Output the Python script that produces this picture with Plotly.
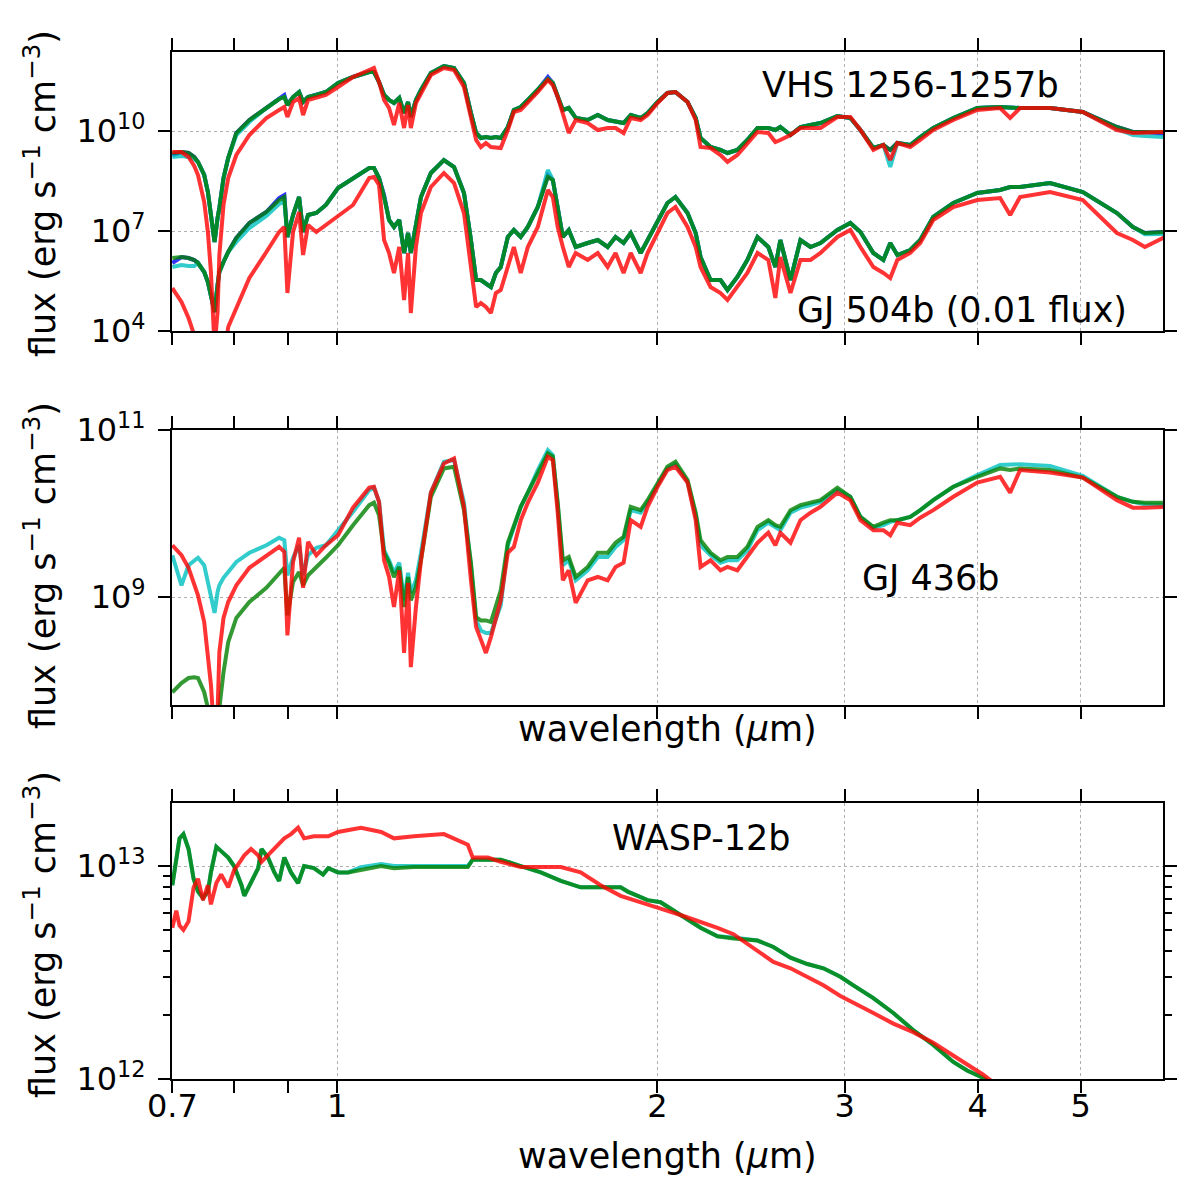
import numpy as np
import plotly.graph_objects as go

# ---------------- data ----------------
# common wavelength grid (micron) for the brown-dwarf / cool-planet spectra
WAVELENGTH_UM = [
    0.700, 0.714, 0.725, 0.734, 0.740, 0.750, 0.756, 0.761, 0.767, 0.772,
    0.775, 0.782, 0.790, 0.804, 0.827, 0.858, 0.882, 0.892, 0.898, 0.909,
    0.921, 0.929, 0.939, 0.956, 0.976, 1.002, 1.035, 1.072, 1.083, 1.095,
    1.107, 1.119, 1.131, 1.144, 1.156, 1.166, 1.173, 1.186, 1.199, 1.225,
    1.260, 1.288, 1.316, 1.336, 1.351, 1.365, 1.380, 1.395, 1.410, 1.425,
    1.447, 1.466, 1.488, 1.511, 1.544, 1.578, 1.595, 1.612, 1.630, 1.651,
    1.676, 1.720, 1.758, 1.796, 1.827, 1.859, 1.888, 1.929, 1.958, 2.001,
    2.044, 2.080, 2.135, 2.173, 2.196, 2.244, 2.293, 2.328, 2.378, 2.430,
    2.484, 2.543, 2.582, 2.610, 2.668, 2.726, 2.786, 2.847, 2.953, 3.037,
    3.104, 3.192, 3.262, 3.311, 3.362, 3.457, 3.533, 3.634, 3.795, 3.997,
    4.200, 4.292, 4.385, 4.679, 5.023, 5.408, 5.598, 5.745, 6.000,
]

# log10 of flux (erg s^-1 cm^-3)
VHS_GREEN_LOG10 = [
    9.34, 9.37, 9.34, 9.22, 9.07, 8.68, 8.17, 7.57, 6.67, 7.39,
    7.69, 8.59, 9.19, 9.94, 10.33, 10.69, 10.96, 11.02, 10.78, 11.02,
    11.17, 10.87, 11.02, 11.08, 11.17, 11.44, 11.62, 11.77, 11.77, 11.47,
    11.08, 10.93, 10.84, 10.99, 10.54, 10.87, 10.42, 10.93, 11.23, 11.74,
    11.95, 11.89, 11.44, 10.54, 9.94, 9.79, 9.82, 9.79, 9.82, 9.79,
    10.12, 10.63, 10.72, 10.93, 11.23, 11.56, 11.44, 11.02, 10.63, 10.69,
    10.39, 10.33, 10.48, 10.33, 10.27, 10.24, 10.48, 10.39, 10.54, 10.87,
    11.14, 11.17, 10.87, 10.39, 9.79, 9.52, 9.43, 9.34, 9.43, 9.73,
    10.09, 10.09, 10.03, 10.12, 9.88, 10.12, 10.18, 10.24, 10.45, 10.39,
    10.03, 9.49, 9.58, 9.43, 9.64, 9.58, 9.82, 10.09, 10.39, 10.69,
    10.72, 10.69, 10.69, 10.69, 10.57, 10.12, 9.97, 9.97, 9.97,
]
VHS_BLUE_LOG10 = [
    9.28, 9.37, 9.34, 9.22, 9.07, 8.68, 8.17, 7.57, 6.67, 7.39,
    7.69, 8.59, 9.19, 9.94, 10.33, 10.69, 10.99, 11.08, 10.78, 11.02,
    11.17, 10.87, 11.02, 11.08, 11.17, 11.44, 11.62, 11.77, 11.77, 11.47,
    11.08, 10.93, 10.84, 10.99, 10.54, 10.87, 10.42, 10.93, 11.23, 11.74,
    11.95, 11.89, 11.44, 10.54, 9.94, 9.79, 9.82, 9.79, 9.82, 9.79,
    10.12, 10.63, 10.72, 10.93, 11.23, 11.62, 11.44, 11.02, 10.63, 10.69,
    10.39, 10.33, 10.48, 10.33, 10.27, 10.24, 10.48, 10.39, 10.54, 10.87,
    11.14, 11.17, 10.87, 10.39, 9.79, 9.52, 9.43, 9.34, 9.43, 9.73,
    10.09, 10.09, 10.03, 10.12, 9.88, 10.12, 10.18, 10.24, 10.45, 10.39,
    10.03, 9.49, 9.58, 9.43, 9.64, 9.58, 9.82, 10.09, 10.39, 10.69,
    10.72, 10.69, 10.69, 10.69, 10.57, 10.12, 9.97, 9.97, 9.91,
]
VHS_CYAN_LOG10 = [
    9.22, 9.25, 9.22, 9.16, 9.07, 8.68, 8.17, 7.57, 6.67, 7.39,
    7.69, 8.59, 9.19, 9.88, 10.27, 10.69, 10.96, 11.02, 10.78, 11.02,
    11.17, 10.87, 11.02, 11.08, 11.17, 11.44, 11.62, 11.77, 11.77, 11.47,
    11.08, 10.93, 10.84, 10.99, 10.54, 10.87, 10.42, 10.93, 11.23, 11.74,
    11.95, 11.89, 11.44, 10.54, 9.94, 9.79, 9.82, 9.79, 9.82, 9.79,
    10.12, 10.63, 10.72, 10.93, 11.23, 11.56, 11.44, 11.02, 10.63, 10.69,
    10.39, 10.33, 10.48, 10.33, 10.27, 10.24, 10.48, 10.39, 10.54, 10.87,
    11.14, 11.17, 10.87, 10.39, 9.79, 9.52, 9.43, 9.34, 9.43, 9.73,
    10.09, 10.09, 10.03, 10.12, 9.88, 10.12, 10.18, 10.24, 10.45, 10.39,
    10.03, 9.49, 9.58, 8.92, 9.64, 9.58, 9.82, 10.09, 10.39, 10.69,
    10.72, 10.69, 10.69, 10.69, 10.57, 10.06, 9.88, 9.85, 9.82,
]
VHS_RED_LOG10 = [
    9.37, 9.37, 9.22, 8.95, 8.68, 7.87, 6.97, 5.77, 3.50, 4.57,
    6.28, 7.78, 8.59, 9.28, 9.88, 10.39, 10.63, 10.72, 10.42, 10.87,
    10.99, 10.48, 10.93, 10.99, 11.08, 11.32, 11.62, 11.83, 11.89, 11.47,
    10.93, 10.69, 10.18, 10.84, 10.09, 10.78, 10.09, 10.84, 11.14, 11.68,
    11.89, 11.83, 11.32, 10.33, 9.73, 9.52, 9.64, 9.52, 9.49, 9.49,
    10.03, 10.57, 10.63, 10.84, 11.17, 11.53, 11.38, 11.02, 10.48, 9.94,
    10.33, 10.24, 10.03, 10.09, 10.09, 9.94, 10.39, 10.33, 10.48, 10.84,
    11.14, 11.17, 10.87, 10.33, 9.52, 9.49, 9.28, 9.07, 9.28, 9.64,
    9.97, 9.94, 9.67, 9.73, 9.88, 10.09, 10.09, 10.09, 10.42, 10.42,
    10.03, 9.43, 9.58, 9.13, 9.64, 9.52, 9.73, 10.03, 10.33, 10.63,
    10.69, 10.39, 10.69, 10.69, 10.57, 10.03, 9.94, 9.94, 9.97,
]

GJ504_GREEN_LOG10 = [
    6.19, 6.22, 6.19, 6.13, 6.04, 5.77, 5.47, 5.08, 4.57, 5.38,
    5.77, 6.07, 6.37, 6.79, 7.24, 7.57, 7.93, 8.02, 6.82, 7.48,
    8.02, 6.97, 7.48, 7.54, 7.78, 8.29, 8.59, 8.89, 8.89, 8.59,
    8.02, 7.33, 7.12, 7.33, 6.34, 6.94, 6.34, 7.12, 8.02, 8.74,
    9.13, 8.92, 8.14, 6.73, 5.53, 5.53, 5.44, 5.32, 5.74, 5.92,
    6.82, 7.03, 6.82, 7.12, 7.72, 8.62, 8.53, 7.63, 6.82, 7.03,
    6.52, 6.64, 6.73, 6.52, 6.82, 6.64, 6.94, 6.34, 6.73, 7.33,
    7.84, 8.02, 7.54, 6.94, 6.22, 5.53, 5.53, 5.23, 5.62, 6.13,
    6.82, 6.52, 5.92, 6.73, 5.53, 6.73, 6.52, 6.64, 7.03, 7.24,
    6.97, 6.34, 6.13, 6.64, 6.28, 6.43, 6.73, 7.42, 7.84, 8.14,
    8.23, 8.32, 8.32, 8.44, 8.17, 7.54, 7.12, 6.94, 6.97,
]
GJ504_BLUE_LOG10 = [
    6.04, 6.22, 6.19, 6.13, 6.04, 5.77, 5.47, 5.08, 4.57, 5.38,
    5.77, 6.07, 6.37, 6.79, 7.24, 7.57, 7.99, 8.08, 6.82, 7.48,
    8.02, 6.97, 7.48, 7.54, 7.78, 8.29, 8.59, 8.89, 8.89, 8.59,
    8.08, 7.33, 7.12, 7.33, 6.34, 6.94, 6.34, 7.12, 8.02, 8.74,
    9.13, 8.92, 8.14, 6.73, 5.53, 5.53, 5.44, 5.32, 5.74, 5.92,
    6.82, 7.03, 6.82, 7.12, 7.72, 8.68, 8.53, 7.63, 6.82, 7.03,
    6.52, 6.64, 6.73, 6.52, 6.82, 6.64, 6.94, 6.34, 6.73, 7.33,
    7.84, 8.02, 7.54, 6.94, 6.22, 5.53, 5.53, 5.23, 5.62, 6.13,
    6.82, 6.52, 5.92, 6.73, 5.53, 6.73, 6.52, 6.64, 7.03, 7.24,
    6.97, 6.34, 6.13, 6.64, 6.28, 6.43, 6.73, 7.42, 7.84, 8.14,
    8.23, 8.32, 8.32, 8.44, 8.17, 7.54, 7.12, 6.94, 6.97,
]
GJ504_CYAN_LOG10 = [
    5.92, 5.98, 5.95, 5.95, 6.04, 5.77, 5.47, 5.08, 4.57, 5.38,
    5.77, 6.07, 6.37, 6.67, 7.09, 7.45, 7.81, 7.90, 6.82, 7.48,
    8.02, 6.97, 7.48, 7.54, 7.78, 8.29, 8.59, 8.89, 8.89, 8.59,
    8.02, 7.33, 7.12, 7.33, 6.34, 6.94, 6.34, 7.12, 8.02, 8.74,
    9.13, 8.92, 8.14, 6.73, 5.53, 5.53, 5.44, 5.32, 5.74, 5.92,
    6.82, 7.03, 6.82, 7.12, 7.72, 8.83, 8.53, 7.63, 6.82, 7.03,
    6.52, 6.64, 6.73, 6.52, 6.82, 6.64, 6.94, 6.34, 6.73, 7.33,
    7.84, 8.02, 7.54, 6.94, 6.22, 5.53, 5.53, 5.23, 5.62, 6.13,
    6.82, 6.52, 5.92, 6.73, 5.53, 6.73, 6.52, 6.64, 7.03, 7.24,
    6.97, 6.34, 6.13, 6.64, 6.28, 6.43, 6.73, 7.42, 7.84, 8.14,
    8.23, 8.32, 8.32, 8.44, 8.17, 7.54, 7.12, 6.90, 6.91,
]
GJ504_RED_LOG10 = [
    5.29, 4.87, 4.39, 3.94, 3.58, 2.98, 2.53, 2.23, 1.93, 2.08,
    2.38, 3.13, 4.12, 4.69, 5.59, 6.37, 6.97, 7.12, 5.14, 6.97,
    7.57, 6.28, 7.18, 6.97, 7.18, 7.48, 7.78, 8.59, 8.62, 8.38,
    6.73, 6.34, 5.74, 6.52, 4.93, 6.34, 4.54, 6.52, 7.54, 8.32,
    8.74, 8.44, 7.54, 5.92, 4.72, 4.84, 4.72, 4.54, 5.14, 5.23,
    5.92, 6.52, 5.74, 6.52, 7.12, 8.23, 8.02, 7.12, 6.52, 5.92,
    6.34, 6.13, 6.34, 5.92, 6.34, 5.74, 6.34, 5.74, 6.34, 6.94,
    7.54, 7.72, 7.12, 6.52, 5.92, 5.32, 5.14, 4.93, 5.32, 5.74,
    6.34, 6.13, 4.99, 6.22, 5.14, 6.13, 6.13, 6.34, 6.82, 7.03,
    6.52, 5.92, 5.74, 5.59, 6.13, 6.34, 6.64, 7.33, 7.72, 7.93,
    7.99, 7.48, 8.02, 8.17, 7.93, 6.94, 6.73, 6.52, 6.82,
]

GJ436_CYAN_LOG10 = [
    9.50, 9.14, 9.38, 9.44, 9.47, 9.38, 9.18, 8.96, 8.81, 9.06,
    9.14, 9.23, 9.30, 9.42, 9.53, 9.62, 9.71, 9.68, 9.26, 9.47,
    9.62, 9.26, 9.50, 9.59, 9.62, 9.80, 10.02, 10.28, 10.31, 10.14,
    9.56, 9.44, 9.29, 9.41, 8.96, 9.29, 9.05, 9.20, 9.53, 10.25,
    10.62, 10.64, 10.13, 9.36, 8.72, 8.60, 8.57, 8.57, 8.72, 8.90,
    9.62, 9.84, 10.08, 10.25, 10.52, 10.76, 10.70, 10.10, 9.38, 9.44,
    9.20, 9.32, 9.48, 9.48, 9.60, 9.68, 10.04, 10.01, 10.13, 10.34,
    10.54, 10.59, 10.38, 9.98, 9.62, 9.50, 9.41, 9.44, 9.44, 9.56,
    9.80, 9.89, 9.83, 9.80, 10.01, 10.07, 10.10, 10.14, 10.28, 10.20,
    9.96, 9.83, 9.86, 9.90, 9.92, 9.96, 10.04, 10.16, 10.32, 10.46,
    10.58, 10.58, 10.59, 10.57, 10.45, 10.20, 10.14, 10.11, 10.10,
]
GJ436_GREEN_LOG10 = [
    7.86, 7.97, 8.03, 8.04, 8.03, 7.86, 7.67, 7.41, 7.05, 7.29,
    7.67, 8.10, 8.46, 8.75, 8.94, 9.11, 9.29, 9.35, 8.78, 9.18,
    9.30, 9.14, 9.26, 9.35, 9.47, 9.62, 9.86, 10.10, 10.13, 9.98,
    9.53, 9.41, 9.24, 9.36, 8.88, 9.24, 8.96, 9.12, 9.44, 10.20,
    10.54, 10.56, 10.04, 9.41, 8.76, 8.72, 8.72, 8.70, 8.88, 9.08,
    9.65, 9.84, 10.08, 10.25, 10.49, 10.72, 10.68, 10.13, 9.44, 9.48,
    9.24, 9.36, 9.53, 9.53, 9.65, 9.72, 10.08, 10.04, 10.16, 10.37,
    10.56, 10.62, 10.40, 10.01, 9.68, 9.53, 9.44, 9.48, 9.48, 9.60,
    9.84, 9.92, 9.86, 9.84, 10.04, 10.10, 10.13, 10.16, 10.31, 10.20,
    9.96, 9.84, 9.89, 9.92, 9.92, 9.96, 10.04, 10.16, 10.32, 10.44,
    10.54, 10.52, 10.54, 10.52, 10.43, 10.20, 10.14, 10.13, 10.13,
]
GJ436_RED_LOG10 = [
    9.62, 9.50, 9.35, 9.14, 9.02, 8.70, 8.34, 7.95, 7.29, 7.62,
    8.34, 8.75, 8.94, 9.14, 9.35, 9.50, 9.60, 9.54, 8.54, 9.42,
    9.71, 9.11, 9.66, 9.50, 9.62, 9.74, 10.07, 10.31, 10.32, 10.14,
    9.44, 9.24, 8.88, 9.32, 8.33, 9.17, 8.16, 8.88, 9.44, 10.25,
    10.60, 10.66, 10.08, 9.20, 8.64, 8.49, 8.33, 8.52, 8.72, 8.96,
    9.53, 9.60, 9.92, 10.13, 10.37, 10.68, 10.64, 10.01, 9.20, 9.32,
    8.93, 9.20, 9.24, 9.20, 9.36, 9.41, 9.92, 9.84, 10.08, 10.32,
    10.52, 10.56, 10.37, 9.92, 9.36, 9.44, 9.32, 9.36, 9.32, 9.48,
    9.65, 9.77, 9.62, 9.77, 9.65, 9.92, 10.01, 10.08, 10.25, 10.16,
    9.92, 9.80, 9.80, 9.74, 9.89, 9.86, 9.95, 10.04, 10.20, 10.37,
    10.44, 10.25, 10.52, 10.49, 10.43, 10.16, 10.07, 10.07, 10.08,
]

# WASP-12b has its own wavelength sampling
WASP_WAVELENGTH_UM = [
    0.700, 0.706, 0.711, 0.717, 0.725, 0.733, 0.740, 0.748, 0.756, 0.761,
    0.770, 0.778, 0.790, 0.800, 0.813, 0.818, 0.830, 0.843, 0.849, 0.861,
    0.873, 0.882, 0.892, 0.905, 0.919, 0.931, 0.951, 0.970, 0.981, 1.002,
    1.024, 1.053, 1.100, 1.131, 1.181, 1.260, 1.327, 1.341, 1.386, 1.425,
    1.488, 1.554, 1.623, 1.694, 1.769, 1.847, 1.876, 1.958, 2.014, 2.103,
    2.196, 2.278, 2.358, 2.484, 2.571, 2.668, 2.767, 2.865, 2.972, 3.057,
    3.192, 3.333, 3.479, 3.634, 3.795, 3.910, 4.049, 4.200,
]
WASP_GREEN_LOG10 = [
    12.91, 13.02, 13.13, 13.15, 13.08, 12.94, 12.88, 12.85, 12.88, 12.97,
    13.09, 13.07, 13.04, 13.00, 12.91, 12.86, 12.92, 12.99, 13.08, 13.04,
    12.97, 12.93, 13.04, 12.97, 12.92, 13.00, 12.99, 12.96, 12.99, 12.97,
    12.97, 12.98, 13.00, 12.99, 12.995, 12.995, 12.995, 13.03, 13.03, 13.03,
    13.00, 12.97, 12.93, 12.90, 12.90, 12.90, 12.88, 12.84, 12.83, 12.77,
    12.71, 12.67, 12.66, 12.65, 12.62, 12.57, 12.54, 12.52, 12.48, 12.44,
    12.38, 12.31, 12.23, 12.16, 12.08, 12.04, 12.005, 11.95,
]
WASP_CYAN_LOG10 = [
    12.91, 13.02, 13.13, 13.15, 13.08, 12.94, 12.88, 12.85, 12.88, 12.97,
    13.09, 13.07, 13.04, 13.00, 12.91, 12.86, 12.92, 12.99, 13.08, 13.04,
    12.97, 12.93, 13.04, 12.97, 12.92, 13.00, 12.99, 12.96, 12.99, 12.97,
    12.97, 12.995, 13.01, 13.00, 13.00, 13.00, 13.00, 13.03, 13.03, 13.03,
    13.00, 12.97, 12.93, 12.90, 12.90, 12.90, 12.88, 12.84, 12.83, 12.77,
    12.71, 12.67, 12.665, 12.65, 12.62, 12.57, 12.54, 12.52, 12.48, 12.44,
    12.38, 12.31, 12.23, 12.16, 12.08, 12.04, 12.005, 11.95,
]
WASP_RED_LOG10 = [
    12.71, 12.79, 12.72, 12.70, 12.74, 12.90, 12.94, 12.84, 12.91, 12.82,
    12.92, 12.96, 12.90, 12.98, 13.03, 13.05, 13.08, 13.05, 13.02, 13.05,
    13.08, 13.10, 13.13, 13.15, 13.18, 13.13, 13.14, 13.14, 13.14, 13.16,
    13.17, 13.18, 13.16, 13.13, 13.14, 13.15, 13.10, 13.04, 13.04, 13.02,
    12.995, 12.995, 12.995, 12.97, 12.91, 12.86, 12.85, 12.82, 12.80, 12.77,
    12.74, 12.71, 12.68, 12.60, 12.55, 12.52, 12.48, 12.44, 12.39, 12.36,
    12.31, 12.26, 12.22, 12.17, 12.11, 12.07, 12.02, 11.96,
]

PANEL_LABELS = ["VHS 1256-1257b", "GJ 504b (0.01 flux)", "GJ 436b", "WASP-12b"]
X_TICKS = [0.7, 1, 2, 3, 4, 5]
X_TICK_TEXT = ["0.7", "1", "2", "3", "4", "5"]
X_MINOR_TICKS = [0.8, 0.9]

# ---------------- styling ----------------
FONT = "DejaVu Sans"
COLORS = {
    "blue": "rgba(0,0,255,0.8)",
    "cyan": "rgba(0,191,191,0.8)",
    "green": "rgba(0,128,0,0.8)",
    "red": "rgba(255,0,0,0.8)",
}
LW = 4


def flux(log_values):
    return [10.0 ** v for v in log_values]


fig = go.Figure()


def add(x, logy, color, xa, ya):
    fig.add_trace(go.Scatter(
        x=x, y=flux(logy), mode="lines",
        line=dict(color=COLORS[color], width=LW),
        xaxis=xa, yaxis=ya, showlegend=False, hoverinfo="skip",
    ))


# top panel: VHS 1256-1257b and GJ 504b
for name, vhs, gj in [("blue", VHS_BLUE_LOG10, GJ504_BLUE_LOG10),
                      ("cyan", VHS_CYAN_LOG10, GJ504_CYAN_LOG10),
                      ("green", VHS_GREEN_LOG10, GJ504_GREEN_LOG10),
                      ("red", VHS_RED_LOG10, GJ504_RED_LOG10)]:
    add(WAVELENGTH_UM, vhs, name, "x", "y")
    add(WAVELENGTH_UM, gj, name, "x", "y")

# middle panel: GJ 436b
add(WAVELENGTH_UM, GJ436_CYAN_LOG10, "cyan", "x2", "y2")
add(WAVELENGTH_UM, GJ436_GREEN_LOG10, "green", "x2", "y2")
add(WAVELENGTH_UM, GJ436_RED_LOG10, "red", "x2", "y2")

# bottom panel: WASP-12b
add(WASP_WAVELENGTH_UM, WASP_CYAN_LOG10, "cyan", "x3", "y3")
add(WASP_WAVELENGTH_UM, WASP_GREEN_LOG10, "green", "x3", "y3")
add(WASP_WAVELENGTH_UM, WASP_RED_LOG10, "red", "x3", "y3")

W = H = 1200.0
XDOM = [172 / W, 1163 / W]
PANELS = [(52, 331), (430, 705), (803, 1079)]  # pixel top/bottom


def ydom(p):
    t, b = p
    return [1 - b / H, 1 - t / H]


GRID = dict(showgrid=True, gridcolor="#b0b0b0", gridwidth=1, griddash="3px,3px")
COMMON = dict(showline=True, linecolor="black", linewidth=2, mirror="ticks",
              ticks="outside", ticklen=12, tickwidth=2, tickcolor="black",
              zeroline=False, automargin=False,
              tickfont=dict(family=FONT, size=32, color="black"))


def xaxis(anchor, labels):
    d = dict(type="log", range=[np.log10(0.6995), np.log10(5.975)], domain=XDOM,
             anchor=anchor, tickmode="array", tickvals=X_TICKS, ticktext=X_TICK_TEXT,
             showticklabels=labels, ticklabelstandoff=-14,
             minor=dict(tickvals=X_MINOR_TICKS, ticks="outside", ticklen=12,
                        tickwidth=2, tickcolor="black", showgrid=False))
    d.update(COMMON)
    d.update(GRID)
    return d


def sup(e):
    return "10<sup>%d</sup>" % e


def yaxis(anchor, dom, rng, exps, minor=None):
    d = dict(type="log", range=rng, domain=dom, anchor=anchor, tickmode="array",
             tickvals=[10.0 ** e for e in exps], ticktext=[sup(e) for e in exps],
             ticklabelstandoff=6)
    if minor:
        d["minor"] = dict(tickvals=minor, ticks="outside", ticklen=7, tickwidth=1.5,
                          tickcolor="black", showgrid=False)
    d.update(COMMON)
    d.update(GRID)
    return d


annotations = []


def label(text, xpx, ypx, size=35, angle=0, xanchor="left"):
    annotations.append(dict(text=text, x=xpx / W, y=1 - ypx / H, xref="paper", yref="paper",
                            showarrow=False, xanchor=xanchor, yanchor="middle",
                            textangle=angle, font=dict(family=FONT, size=size, color="black")))


label(PANEL_LABELS[0], 760, 85)
label(PANEL_LABELS[1], 795, 310)
label(PANEL_LABELS[2], 860, 578)
label(PANEL_LABELS[3], 610, 838)

YT = "flux (erg s<sup>\u22121</sup> cm<sup>\u22123</sup>)"
for yc in (194, 566, 935):
    label(YT, 40, yc, size=35, angle=-90, xanchor="center")
XT = "wavelength (<i>\u03bc</i>m)"
label(XT, 667, 729, size=35, xanchor="center")
label(XT, 667, 1156, size=35, xanchor="center")

fig.update_layout(
    width=1200, height=1200,
    margin=dict(l=0, r=0, t=0, b=0, autoexpand=False),
    paper_bgcolor="white", plot_bgcolor="white",
    showlegend=False,
    font=dict(family=FONT, color="black"),
    xaxis=xaxis("y", False),
    xaxis2=xaxis("y2", False),
    xaxis3=xaxis("y3", True),
    yaxis=yaxis("x", ydom(PANELS[0]), [4, 12.37], [4, 7, 10]),
    yaxis2=yaxis("x2", ydom(PANELS[1]), [7.707, 11.0], [9, 11]),
    yaxis3=yaxis("x3", ydom(PANELS[2]), [12, 13.296], [12, 13],
                 minor=[k * 1e12 for k in range(2, 10)]),
    annotations=annotations,
)

fig.write_html("out.html")
